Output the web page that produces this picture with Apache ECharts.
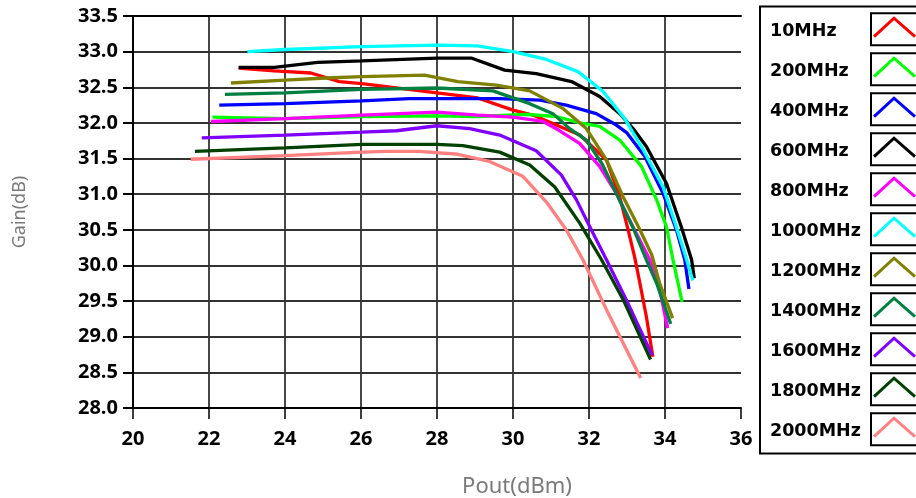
<!DOCTYPE html>
<html>
<head>
<meta charset="utf-8">
<script src="https://cdn.jsdelivr.net/npm/echarts@6/dist/echarts.min.js"></script>
<style>html,body{margin:0;padding:0;background:#fff}#c{width:916px;height:498px}</style>
</head>
<body>
<div id="c"></div>
<script>
// ---- data (Pout dBm, Gain dB) ----
const seriesNames = ['10MHz','200MHz','400MHz','600MHz','800MHz','1000MHz','1200MHz','1400MHz','1600MHz','1800MHz','2000MHz'];
const seriesColors = ['#ff0000','#00ff00','#0000ff','#000000','#ff00ff','#00ffff','#808000','#008040','#8000ff','#004000','#ff8080'];
const xTicks = [20,22,24,26,28,30,32,34,36];
const yTicks = [28.0,28.5,29.0,29.5,30.0,30.5,31.0,31.5,32.0,32.5,33.0,33.5];

const f10MHz = [[22.78,32.77],[23.72,32.73],[24.68,32.70],[25.43,32.58],[26.02,32.55],[28.0,32.42],[29.07,32.35],[30.0,32.18],[30.52,32.11],[31.14,31.97],[31.76,31.83],[32.46,31.48],[32.81,30.96],[33.03,30.5],[33.2,30.12],[33.34,29.75],[33.51,29.28],[33.68,28.72]];
const f200MHz = [[22.09,32.08],[24.0,32.06],[26.02,32.09],[28.0,32.10],[29.07,32.09],[30.35,32.12],[31.14,32.09],[31.76,32.0],[32.28,31.95],[32.81,31.76],[33.38,31.39],[33.78,30.92],[34.04,30.54],[34.21,30.08],[34.45,29.49]];
const f400MHz = [[22.27,32.25],[24.0,32.27],[26.02,32.31],[27.27,32.34],[28.0,32.34],[29.65,32.34],[30.7,32.32],[31.4,32.25],[32.19,32.13],[32.72,31.97],[33.0,31.86],[33.47,31.53],[33.95,31.01],[34.3,30.5],[34.52,30.08],[34.63,29.67]];
const f600MHz = [[22.78,32.78],[23.72,32.78],[24.86,32.85],[26.02,32.87],[28.0,32.91],[28.9,32.91],[29.78,32.74],[30.61,32.69],[31.54,32.58],[32.28,32.37],[32.81,32.13],[33.16,31.92],[33.51,31.67],[34.04,31.15],[34.43,30.54],[34.70,30.08],[34.77,29.82]];
const f800MHz = [[22.05,32.02],[24.0,32.06],[26.02,32.11],[28.0,32.15],[29.07,32.11],[30.0,32.08],[30.79,32.02],[31.2,31.9],[31.76,31.71],[32.28,31.39],[32.72,31.01],[33.16,30.54],[33.6,30.08],[33.86,29.66],[34.07,29.12]];
const f1000MHz = [[23.01,33.0],[24.0,33.03],[26.02,33.07],[28.0,33.09],[29.07,33.08],[30.0,33.0],[30.88,32.89],[31.71,32.72],[32.37,32.44],[32.94,32.06],[33.43,31.62],[33.95,31.1],[34.3,30.54],[34.57,30.08],[34.73,29.79]];
const f1200MHz = [[22.58,32.56],[24.0,32.60],[25.08,32.63],[26.02,32.65],[27.67,32.67],[28.55,32.58],[29.56,32.53],[30.44,32.45],[31.32,32.2],[31.93,31.92],[32.46,31.48],[32.9,30.96],[33.34,30.5],[33.65,30.15],[33.86,29.75],[34.2,29.26]];
const f1400MHz = [[22.42,32.40],[24.0,32.42],[26.02,32.47],[28.0,32.49],[29.47,32.45],[30.44,32.27],[31.05,32.13],[31.49,31.92],[31.93,31.76],[32.35,31.42],[32.72,31.01],[33.15,30.54],[33.51,30.08],[33.78,29.75],[34.15,29.18]];
const f1600MHz = [[21.81,31.79],[24.0,31.83],[26.02,31.87],[26.93,31.89],[28.0,31.96],[28.86,31.92],[29.65,31.83],[30.61,31.61],[31.27,31.27],[31.67,30.92],[32.06,30.5],[32.46,30.08],[32.98,29.52],[33.66,28.74]];
const f1800MHz = [[21.63,31.60],[24.0,31.65],[26.02,31.70],[28.0,31.70],[28.68,31.68],[29.65,31.59],[30.44,31.41],[31.1,31.1],[31.76,30.59],[32.33,30.08],[32.9,29.52],[33.62,28.68]];
const f2000MHz = [[21.52,31.49],[24.0,31.54],[26.02,31.59],[26.66,31.60],[27.54,31.60],[28.55,31.56],[29.38,31.46],[30.26,31.25],[30.88,30.89],[31.4,30.5],[31.84,30.08],[32.46,29.38],[33.36,28.42]];

const seriesData = [f10MHz,f200MHz,f400MHz,f600MHz,f800MHz,f1000MHz,f1200MHz,f1400MHz,f1600MHz,f1800MHz,f2000MHz];

// ---- chart ----
const chart = echarts.init(document.getElementById('c'), null, {renderer:'canvas'});
const tickFont = {fontFamily:'Open Sans', fontWeight:'bold', fontSize:20, color:'#000'};
const gridLine = {show:true, lineStyle:{color:'#333', width:1.8}};

const graphics = [];
// axis names
graphics.push({type:'text', x:20, y:212, rotation:Math.PI/2,
  style:{text:'Gain(dB)', x:0, y:0, align:'center', verticalAlign:'middle', fill:'#7a7a7a', font:'18px "Noto Sans"'}});
graphics.push({type:'text', x:517, y:487,
  style:{text:'Pout(dBm)', x:0, y:0, align:'center', verticalAlign:'middle', fill:'#7a7a7a', font:'22px "Noto Sans"'}});
// legend box
graphics.push({type:'rect', shape:{x:760, y:6.5, width:200, height:447}, style:{fill:'none', stroke:'#000', lineWidth:2}});
seriesNames.forEach((n,i)=>{
  const cy = 31.7 + 40*i;
  graphics.push({type:'text', x:770, y:cy, style:{text:n, x:0, y:0, align:'left', verticalAlign:'middle', fill:'#000', font:'bold 17.5px "DejaVu Sans"'}});
  graphics.push({type:'rect', shape:{x:871, y:cy-18.5, width:80, height:32}, style:{fill:'none', stroke:'#000', lineWidth:2}});
  graphics.push({type:'polyline', shape:{points:[[874,cy+5],[894,cy-13.5],[915,cy+5]]}, style:{fill:'none', stroke:seriesColors[i], lineWidth:3}});
});

const option = {
  animation:false,
  backgroundColor:'#fff',
  grid:{left:133, right:175, top:16, bottom:90, containLabel:false, outerBoundsMode:'none'},
  xAxis:[{
    type:'value', min:xTicks[0], max:xTicks[xTicks.length-1], interval:2,
    axisLine:{show:true, onZero:false, lineStyle:{color:'#000', width:2}},
    axisTick:{show:true, length:11, lineStyle:{color:'#000', width:1.5}},
    axisLabel:Object.assign({margin:21}, tickFont),
    splitLine:Object.assign({showMinLine:false, showMaxLine:false}, gridLine)
  },{
    type:'value', position:'top', min:xTicks[0], max:xTicks[xTicks.length-1], interval:2,
    axisLine:{show:true, onZero:false, lineStyle:{color:'#000', width:2}},
    axisTick:{show:false}, axisLabel:{show:false}, splitLine:{show:false}
  }],
  yAxis:{
    type:'value', min:yTicks[0], max:yTicks[yTicks.length-1], interval:0.5,
    axisLine:{show:true, onZero:false, lineStyle:{color:'#000', width:2}},
    axisTick:{show:true, length:10, lineStyle:{color:'#000', width:2}},
    axisLabel:Object.assign({margin:15, formatter:v=>v.toFixed(1)}, tickFont),
    splitLine:Object.assign({showMinLine:false, showMaxLine:false}, gridLine)
  },
  series: seriesNames.map((n,i)=>({
    name:n, type:'line', data:seriesData[i], showSymbol:false, symbol:'none',
    lineStyle:{color:seriesColors[i], width:3.3}, itemStyle:{color:seriesColors[i]}, z:2+i
  })),
  graphic:graphics
};
chart.setOption(option);
</script>
</body>
</html>
